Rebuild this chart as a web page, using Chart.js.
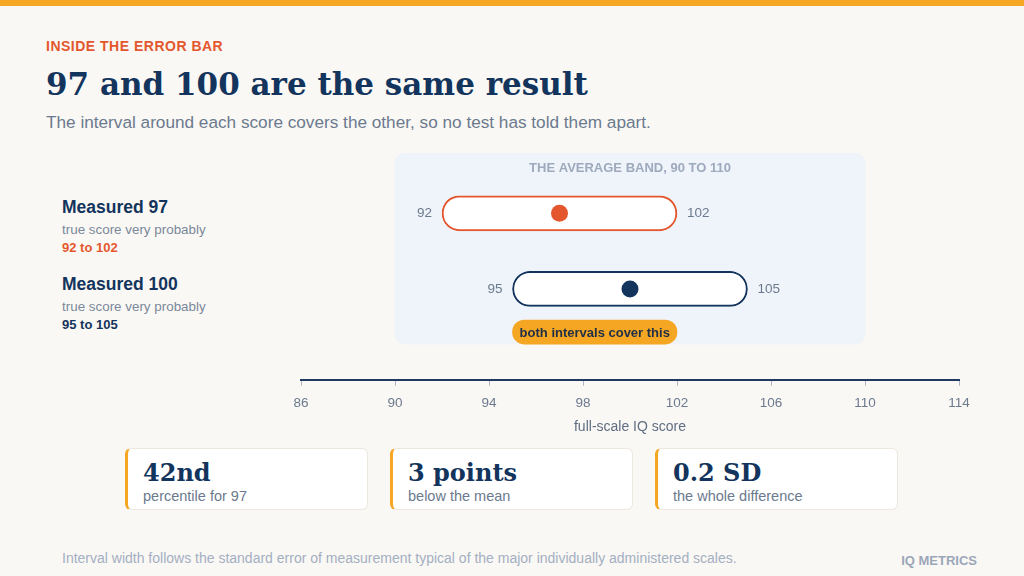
<!DOCTYPE html>
<html lang="en">
<head>
  <meta charset="UTF-8">
  <title>97 and 100 are the same result</title>
  <script src="https://cdn.jsdelivr.net/npm/chart.js"></script>
  <style>
    body { margin: 0; width: 1024px; height: 576px; position: relative; overflow: hidden;
           background: #FAF8F4; font-family: "Liberation Sans", Arial, sans-serif; }
    .topbar { position: absolute; left: 0; top: 0; width: 1024px; height: 6px; background: #F5A623; }
    .kicker { position: absolute; left: 46px; top: 38px; font-size: 14px; line-height: 16px; font-weight: bold;
              letter-spacing: 0.5px; color: #E4572E; }
    h1 { position: absolute; left: 46px; top: 64px; margin: 0; font-family: "DejaVu Serif", Georgia, serif;
         font-size: 31px; line-height: 40px; font-weight: bold; color: #13345C; }
    .sub { position: absolute; left: 46px; top: 112px; font-size: 17.2px; line-height: 20px; color: #6B7A8E; }
    .row { position: absolute; left: 62px; width: 220px; }
    .row .name { position: absolute; top: 0; font-size: 17.5px; line-height: 20px; font-weight: bold; color: #13345C; white-space: nowrap; }
    .row .note { position: absolute; top: 25px; font-size: 13.4px; line-height: 16px; color: #7A889B; white-space: nowrap; }
    .row .range { position: absolute; top: 43px; font-size: 13px; line-height: 16px; font-weight: bold; white-space: nowrap; }
    #chartBox { position: absolute; left: 280px; top: 141px; width: 700px; height: 300px; }
    .card { position: absolute; top: 448px; width: 243px; height: 62px; box-sizing: border-box; background: #fff;
            border: 1px solid #ECE7DF; border-left: 3px solid #F5A623; border-radius: 6px; padding: 10px 0 0 15px; }
    .card .big { font-family: "DejaVu Serif", Georgia, serif; font-weight: bold; font-size: 24px; line-height: 28px; color: #13345C; white-space: nowrap; }
    .card .small { font-size: 14.5px; line-height: 17px; margin-top: 1px; color: #6B7A8E; white-space: nowrap; }
    .foot { position: absolute; left: 62px; top: 550px; font-size: 14px; line-height: 16px; color: #A3AFC2; }
    .brand { position: absolute; right: 47px; top: 553px; font-size: 13px; line-height: 16px; font-weight: bold; color: #9AA7B9; }
  </style>
</head>
<body>
  <div class="topbar"></div>
  <div class="kicker">INSIDE THE ERROR BAR</div>
  <h1>97 and 100 are the same result</h1>
  <div class="sub">The interval around each score covers the other, so no test has told them apart.</div>
  <div id="rows"></div>
  <div id="chartBox"><canvas id="iqChart"></canvas></div>
  <div id="cards"></div>
  <div class="foot">Interval width follows the standard error of measurement typical of the major individually administered scales.</div>
  <div class="brand">IQ METRICS</div>

  <script>
    // values
    const rowNames = ['Measured 97', 'Measured 100'];
    const scores = [97, 100];
    const lows = [92, 95];
    const highs = [102, 105];
    const band = [90, 110];
    const overlap = [95, 102];
    const xTicks = [86, 90, 94, 98, 102, 106, 110, 114];
    const statValues = ['42nd', '3 points', '0.2 SD'];
    const statNotes = ['percentile for 97', 'below the mean', 'the whole difference'];

    const ORANGE = '#E4572E', NAVY = '#13345C', GOLD = '#F5A623';
    const rowColors = [ORANGE, NAVY];
    const FONT = '"Liberation Sans", Arial, sans-serif';

    // left-hand labels
    const rowsEl = document.getElementById('rows');
    rowNames.forEach((name, i) => {
      const d = document.createElement('div');
      d.className = 'row';
      d.style.top = (197 + i * 76.5) + 'px';
      d.innerHTML = `<div class="name">${name}</div><div class="note">true score very probably</div>` +
        `<div class="range" style="color:${rowColors[i]}">${lows[i]} to ${highs[i]}</div>`;
      rowsEl.appendChild(d);
    });

    // stat cards
    const cardsEl = document.getElementById('cards');
    statValues.forEach((v, i) => {
      const c = document.createElement('div');
      c.className = 'card';
      c.style.left = (125 + i * 265) + 'px';
      c.innerHTML = `<div class="big">${v}</div><div class="small">${statNotes[i]}</div>`;
      cardsEl.appendChild(c);
    });

    const textPlugin = {
      id: 'textPlugin',
      afterDatasetsDraw(chart) {
        const ctx = chart.ctx, x = chart.scales.x, y = chart.scales.y;
        ctx.save();
        ctx.textBaseline = 'middle';

        const bandEl = chart.getDatasetMeta(3).data[0];
        ctx.font = 'bold 13px ' + FONT;
        ctx.fillStyle = '#9DAABD';
        ctx.textAlign = 'center';
        ctx.fillText(`THE AVERAGE BAND, ${band[0]} TO ${band[1]}`,
          x.getPixelForValue((band[0] + band[1]) / 2), bandEl.y - bandEl.height / 2 + 15);

        ctx.font = '13.5px ' + FONT;
        ctx.fillStyle = '#6B7A8E';
        lows.forEach((lo, i) => {
          const py = y.getPixelForValue(i);
          ctx.textAlign = 'right';
          ctx.fillText(String(lo), x.getPixelForValue(lo) - 10, py);
          ctx.textAlign = 'left';
          ctx.fillText(String(highs[i]), x.getPixelForValue(highs[i]) + 10, py);
        });

        const ov = chart.getDatasetMeta(1).data[0];
        ctx.font = 'bold 13px ' + FONT;
        ctx.fillStyle = '#1E2F46';
        ctx.textAlign = 'center';
        ctx.fillText('both intervals cover this',
          (x.getPixelForValue(overlap[0]) + x.getPixelForValue(overlap[1])) / 2, ov.y + 1);
        ctx.restore();
      }
    };

    new Chart(document.getElementById('iqChart'), {
      type: 'bar',
      data: {
        datasets: [
          {
            type: 'scatter',
            data: scores.map((s, i) => ({ x: s, y: i })),
            backgroundColor: rowColors,
            pointRadius: 8.5,
            borderWidth: 0,
            order: 0
          },
          {
            data: [{ x: overlap, y: 1.57 }],
            backgroundColor: GOLD,
            barThickness: 24,
            borderRadius: 12,
            borderSkipped: false,
            grouped: false,
            order: 1
          },
          {
            data: lows.map((lo, i) => ({ x: [lo, highs[i]], y: i })),
            backgroundColor: '#FFFFFF',
            borderColor: rowColors,
            borderWidth: 2,
            barThickness: 35,
            borderRadius: 18,
            borderSkipped: false,
            grouped: false,
            order: 2
          },
          {
            data: [{ x: band, y: 0.467 }],
            backgroundColor: '#EFF3FA',
            barThickness: 191,
            borderRadius: 10,
            borderSkipped: false,
            grouped: false,
            order: 3
          }
        ]
      },
      options: {
        indexAxis: 'y',
        responsive: true,
        maintainAspectRatio: false,
        animation: false,
        events: [],
        layout: { padding: { left: 21, right: 21, top: 11.8, bottom: 6.1 } },
        plugins: { legend: { display: false }, tooltip: { enabled: false } },
        scales: {
          x: {
            type: 'linear',
            position: 'bottom',
            min: 86,
            max: 114,
            afterBuildTicks: s => { s.ticks = xTicks.map(v => ({ value: v })); },
            grid: { drawOnChartArea: false, drawTicks: true, tickLength: 6, color: '#A9B6C8', lineWidth: 1 },
            border: { display: true, color: '#1F3A5F', width: 2 },
            ticks: { padding: 9, color: '#6B7A8E', font: { family: FONT, size: 13.5 }, maxRotation: 0 },
            title: { display: true, text: 'full-scale IQ score', color: '#5F6E82',
                     font: { family: FONT, size: 14, lineHeight: 1 }, padding: { top: 0, bottom: 1 } }
          },
          y: {
            type: 'linear',
            display: false,
            reverse: true,
            offset: false,
            min: -0.8,
            max: 2.2
          }
        }
      },
      plugins: [textPlugin]
    });
  </script>
</body>
</html>
